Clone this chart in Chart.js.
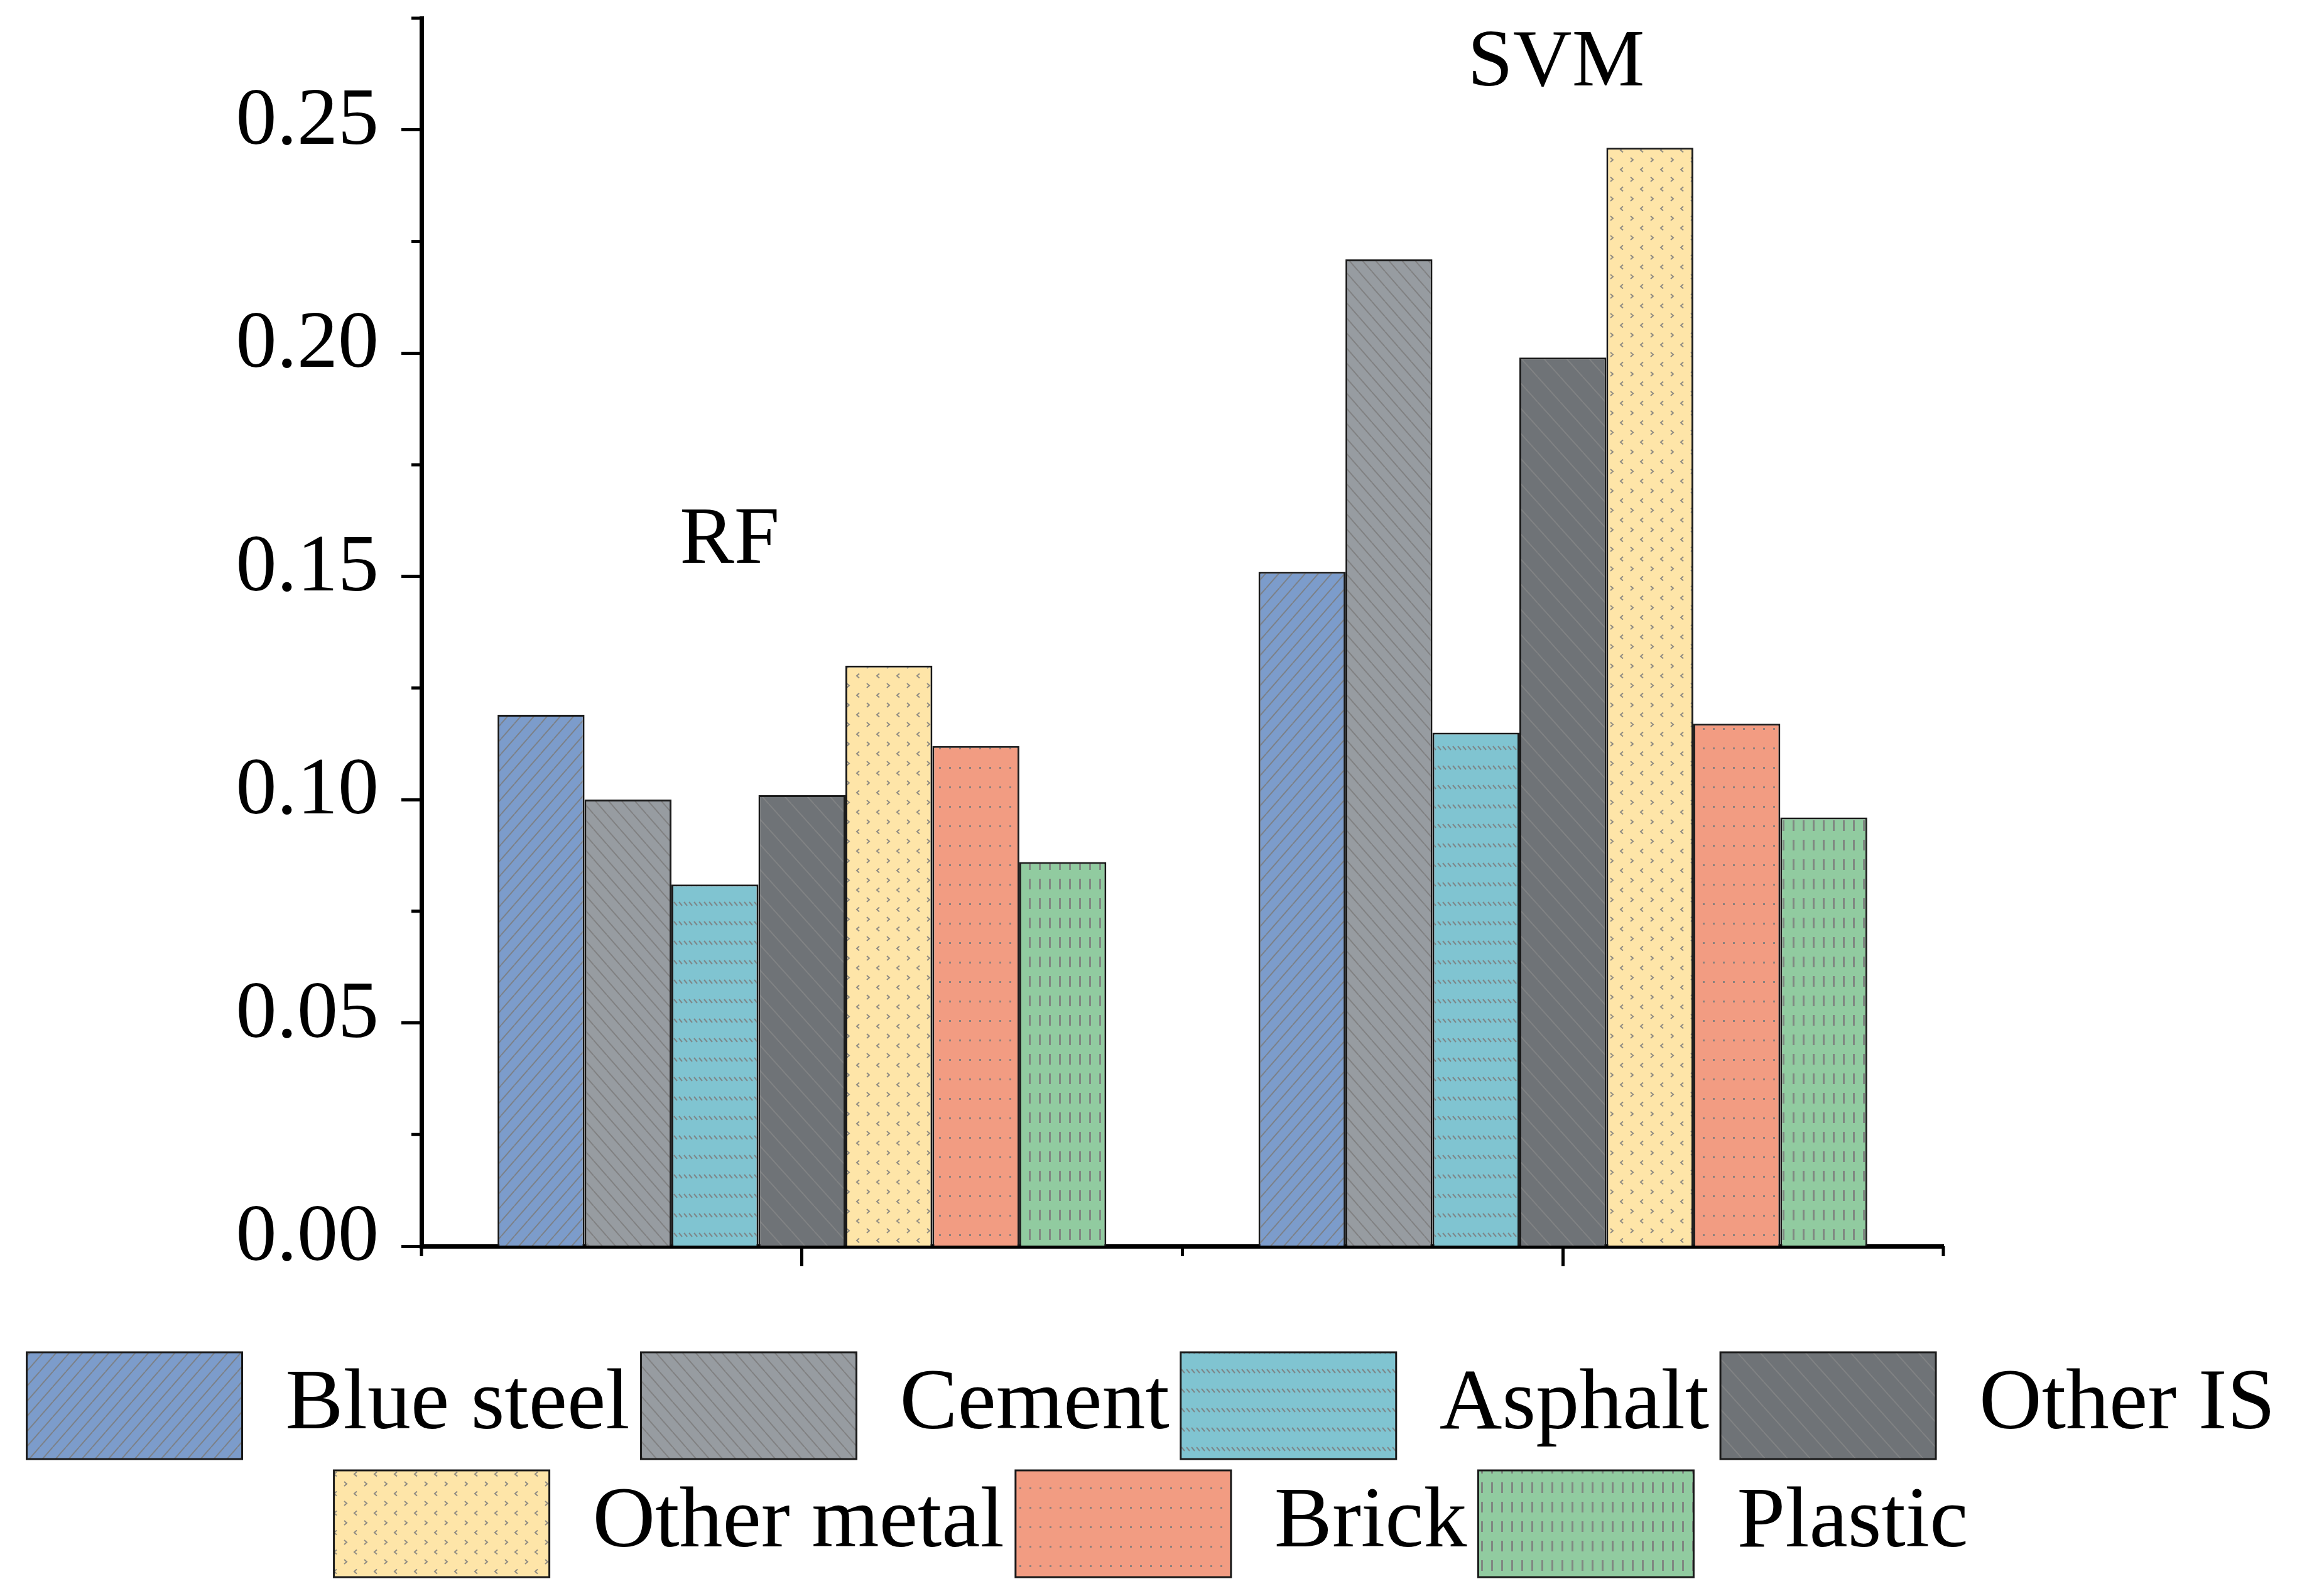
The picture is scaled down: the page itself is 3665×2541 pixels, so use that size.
<!DOCTYPE html>
<html>
<head>
<meta charset="utf-8">
<script src="https://cdn.jsdelivr.net/npm/chart.js@4.4.0/dist/chart.umd.min.js"></script>
<style>
  html, body { margin: 0; padding: 0; background: #fff; }
  canvas { display: block; }
</style>
</head>
<body>
<canvas id="grafico" width="3665" height="2541" style="width:3665px;height:2541px"></canvas>
<script>
// DATOS
const categorias = ['RF', 'SVM'];
const materiales = ['Blue steel', 'Cement', 'Asphalt', 'Other IS', 'Other metal', 'Brick', 'Plastic'];
const blueSteel  = [0.119, 0.151];
const cement     = [0.100, 0.221];
const asphalt    = [0.081, 0.115];
const otherIS    = [0.101, 0.199];
const otherMetal = [0.130, 0.246];
const brick      = [0.112, 0.117];
const plastic    = [0.086, 0.096];
const yTicks      = [0, 0.05, 0.10, 0.15, 0.20, 0.25];
const yMinorTicks = [0.025, 0.075, 0.125, 0.175, 0.225, 0.275];

const FUENTE = "'Liberation Serif', 'DejaVu Serif', serif";
const ctx = document.getElementById('grafico').getContext('2d');

// tramas de relleno
function trama(base, w, h, dibujar) {
    const c = document.createElement('canvas');
    c.width = w; c.height = h;
    const g = c.getContext('2d');
    g.fillStyle = base;
    g.fillRect(0, 0, w, h);
    g.strokeStyle = 'rgba(125,125,125,0.85)';
    g.fillStyle = 'rgba(125,125,125,0.85)';
    g.lineWidth = 2;
    dibujar(g, w, h);
    return ctx.createPattern(c, 'repeat');
}
const subida = (g, w, h) => {
    g.beginPath();
    for (let k = -1; k <= 1; k++) { g.moveTo(k * w, h); g.lineTo(k * w + w, 0); }
    g.stroke();
};
const bajada = (g, w, h) => {
    g.beginPath();
    for (let k = -1; k <= 1; k++) { g.moveTo(k * w, 0); g.lineTo(k * w + w, h); }
    g.stroke();
};

const rellenos = [
    trama('#7c9ccb', 21, 24, subida),
    trama('#979ca1', 21, 24, bajada),
    trama('#80c4d1', 8, 31, (g) => { g.beginPath(); g.moveTo(1, 10); g.lineTo(6, 16); g.stroke(); }),
    trama('#6f7377', 36, 40, (g, w, h) => { g.strokeStyle = 'rgba(140,140,140,0.6)'; bajada(g, w, h); }),
    trama('#fee5a8', 32, 31, (g) => {
        g.beginPath();
        g.moveTo(4, 3); g.lineTo(8, 6.5); g.lineTo(4, 10);
        g.moveTo(24, 18.5); g.lineTo(20, 22); g.lineTo(24, 25.5);
        g.stroke();
    }),
    trama('#f29c82', 16, 31, (g) => { g.fillRect(7, 12, 3, 3); }),
    trama('#91cba0', 16, 31, (g) => { g.fillRect(6, 4, 3, 17); })
];
const series = [blueSteel, cement, asphalt, otherIS, otherMetal, brick, plastic];

// marcas menores y rotulos RF / SVM
const marcas = {
    id: 'marcas',
    afterDraw(chart) {
        const c = chart.ctx;
        const area = chart.chartArea;
        const x = chart.scales.x, y = chart.scales.y;
        c.save();
        c.strokeStyle = '#000';
        c.lineWidth = 5;
        c.beginPath();
        yMinorTicks.forEach(v => {
            const py = y.getPixelForValue(v);
            c.moveTo(area.left - 16, py); c.lineTo(area.left, py);
        });
        const c0 = x.getPixelForValue(0), c1 = x.getPixelForValue(1), mitad = (c1 - c0) / 2;
        [c0 - mitad, c0 + mitad, c1 + mitad].forEach(px => {
            c.moveTo(px, area.bottom); c.lineTo(px, area.bottom + 16);
        });
        c.stroke();

        c.fillStyle = '#000';
        c.font = '130px ' + FUENTE;
        c.textAlign = 'center';
        c.textBaseline = 'alphabetic';
        c.fillText(categorias[0], c0 - 0.095 * 2 * mitad, y.getPixelForValue(0.153));
        c.fillText(categorias[1], c1 - 0.009 * 2 * mitad, y.getPixelForValue(0.260));
        c.restore();
    }
};

const grafico = new Chart(ctx, {
    type: 'bar',
    data: {
        labels: categorias,
        datasets: materiales.map((m, i) => ({
            label: m,
            data: series[i],
            backgroundColor: rellenos[i],
            borderColor: '#1a1a1a',
            borderWidth: 3
        }))
    },
    options: {
        responsive: false,
        devicePixelRatio: 1,
        animation: false,
        layout: { padding: { left: 0, right: 0, top: 29, bottom: 20 } },
        datasets: { bar: { categoryPercentage: 0.8, barPercentage: 1.0 } },
        plugins: {
            legend: {
                position: 'bottom',
                labels: {
                    font: { family: FUENTE, size: 138 },
                    color: '#000',
                    boxWidth: 343,
                    boxHeight: 170,
                    padding: 18
                }
            },
            tooltip: { enabled: false }
        },
        scales: {
            x: {
                grid: { display: true, drawOnChartArea: false, drawTicks: true, offset: false,
                        tickLength: 32, tickWidth: 5, tickColor: '#000' },
                border: { display: true, color: '#000', width: 7 },
                ticks: { display: false },
                afterFit: (s) => { s.height = 151; s.paddingLeft = 0; s.paddingRight = 0; }
            },
            y: {
                min: 0,
                max: 0.275,
                afterBuildTicks: (s) => { s.ticks = yTicks.map(v => ({ value: v })); },
                ticks: {
                    callback: (v) => Number(v).toFixed(2),
                    font: { family: FUENTE, size: 130 },
                    color: '#000',
                    padding: 36,
                    labelOffset: -12
                },
                grid: { drawOnChartArea: false, drawTicks: true, tickLength: 32, tickWidth: 5, tickColor: '#000' },
                border: { display: true, color: '#000', width: 7 },
                afterFit: (s) => { s.width = 671; s.paddingTop = 0; s.paddingBottom = 0; }
            },
            derecha: {
                position: 'right',
                display: true,
                grid: { display: false },
                border: { display: false },
                ticks: { display: false },
                afterFit: (s) => { s.width = 571; s.paddingTop = 0; s.paddingBottom = 0; }
            }
        }
    },
    plugins: [marcas]
});
</script>
</body>
</html>
